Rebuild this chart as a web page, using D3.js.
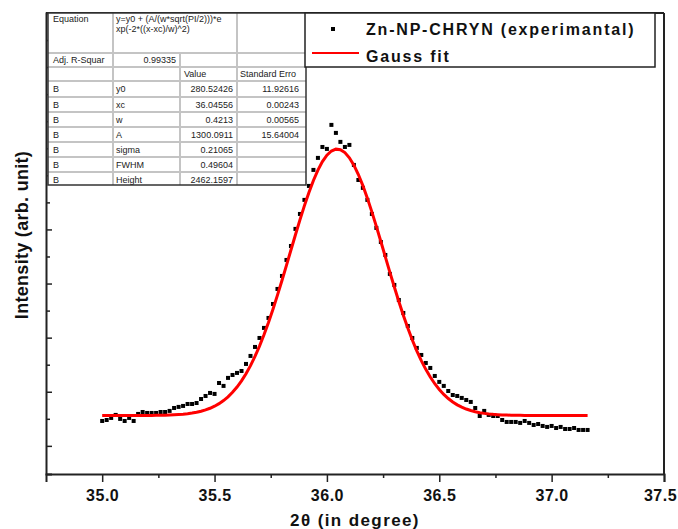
<!DOCTYPE html>
<html>
<head>
<meta charset="utf-8">
<script src="https://cdn.jsdelivr.net/npm/d3@7"></script>
<style>
  body { margin: 0; background: #fff; }
  svg { display: block; font-family: "Liberation Sans", Arial, sans-serif; }
</style>
</head>
<body>
<svg id="chart"></svg>
<script>
// Measured data (2theta in degree, intensity in arb. unit)
const twoTheta = [
  35.00, 35.02, 35.04, 35.06, 35.08, 35.10, 35.12, 35.14, 35.16, 35.18,
  35.20, 35.22, 35.24, 35.26, 35.28, 35.30, 35.32, 35.34, 35.36, 35.38,
  35.40, 35.42, 35.44, 35.46, 35.48, 35.50, 35.52, 35.54, 35.56, 35.58,
  35.60, 35.62, 35.64, 35.66, 35.68, 35.70, 35.72, 35.74, 35.76, 35.78,
  35.80, 35.82, 35.84, 35.86, 35.88, 35.90, 35.92, 35.94, 35.96, 35.98,
  36.00, 36.02, 36.04, 36.06, 36.08, 36.10, 36.12, 36.14, 36.16, 36.18,
  36.20, 36.22, 36.24, 36.26, 36.28, 36.30, 36.32, 36.34, 36.36, 36.38,
  36.40, 36.42, 36.44, 36.46, 36.48, 36.50, 36.52, 36.54, 36.56, 36.58,
  36.60, 36.62, 36.64, 36.66, 36.68, 36.70, 36.72, 36.74, 36.76, 36.78,
  36.80, 36.82, 36.84, 36.86, 36.88, 36.90, 36.92, 36.94, 36.96, 36.98,
  37.00, 37.02, 37.04, 37.06, 37.08, 37.10, 37.12, 37.14, 37.16
];
const intensity = [
  230, 239, 258, 286, 249, 230, 258, 230, 295, 313,
  304, 304, 304, 313, 313, 323, 350, 360, 369, 387,
  387, 396, 433, 461, 489, 480, 581, 554, 628, 655,
  674, 692, 757, 831, 914, 997, 1090, 1182, 1311, 1450,
  1570, 1718, 1847, 2005, 2143, 2273, 2402, 2550, 2661, 2762,
  2744, 2966, 2892, 2809, 2762, 2781, 2596, 2457, 2384, 2273,
  2143, 2014, 1884, 1764, 1589, 1487, 1348, 1228, 1108, 997,
  905, 840, 766, 720, 646, 591, 554, 507, 470, 461,
  443, 424, 406, 350, 276, 323, 286, 276, 276, 239,
  221, 221, 221, 212, 230, 212, 193, 202, 184, 175,
  184, 165, 175, 156, 156, 165, 147, 147, 147
];

// Gauss fit parameters (from the fit table)
const fitY0 = 280.52426;
const fitXc = 36.04556;
const fitW = 0.4213;
const fitA = 1300.0911;

// Fit result table
const equationLines = ["y=y0 + (A/(w*sqrt(PI/2)))*e", "xp(-2*((x-xc)/w)^2)"];
const adjRSquare = "0.99335";
const tableHeader = ["", "", "Value", "Standard Erro"];
const tableRows = [
  ["B", "y0", "280.52426", "11.92616"],
  ["B", "xc", "36.04556", "0.00243"],
  ["B", "w", "0.4213", "0.00565"],
  ["B", "A", "1300.0911", "15.64004"],
  ["B", "sigma", "0.21065", ""],
  ["B", "FWHM", "0.49604", ""],
  ["B", "Height", "2462.1597", ""]
];

const xMajorTicks = [35.0, 35.5, 36.0, 36.5, 37.0, 37.5];
const xMinorTicks = [35.25, 35.75, 36.25, 36.75, 37.25];
const yMajorTicks = [0, 500, 1000, 1500, 2000, 2500, 3000, 3500];
const yMinorTicks = [250, 750, 1250, 1750, 2250, 2750, 3250, 3750];

const legendLabels = ["Zn-NP-CHRYN (experimantal)", "Gauss fit"];

// Set up the dimensions and margins
const margin = {top: 13, right: 14, bottom: 55, left: 46};
const width = 678 - margin.left - margin.right;
const height = 529 - margin.top - margin.bottom;

const svg = d3.select("#chart")
  .attr("width", 678)
  .attr("height", 529)
  .append("g")
  .attr("transform", `translate(${margin.left},${margin.top})`);

const x = d3.scaleLinear().domain([34.75, 37.5]).range([0, width]);
const y = d3.scaleLinear().domain([-260, 4000]).range([height, 0]);

const axisColor = "#222";

// X axis (ticks outward)
const xAxis = svg.append("g")
  .attr("transform", `translate(0,${height})`)
  .call(d3.axisBottom(x).tickValues(xMajorTicks).tickSize(8).tickPadding(8)
    .tickFormat(d3.format(".1f")));
xAxis.select(".domain").attr("stroke", axisColor).attr("stroke-width", 2);
xAxis.selectAll(".tick line").attr("stroke", axisColor).attr("stroke-width", 1.5);
xAxis.selectAll(".tick text")
  .attr("fill", "#111")
  .style("font-size", "16px")
  .style("font-weight", "bold")
  .style("letter-spacing", "0.5px");
// keep the last label inside the page
xAxis.selectAll(".tick text").filter(d => d === 37.5).attr("dx", -4);

svg.append("g")
  .attr("transform", `translate(0,${height})`)
  .call(d3.axisBottom(x).tickValues(xMinorTicks).tickSize(4).tickFormat(""))
  .call(g => g.select(".domain").remove())
  .selectAll(".tick line").attr("stroke", axisColor).attr("stroke-width", 1.5);

// Y axis (ticks inward, no labels)
const yAxis = svg.append("g")
  .call(d3.axisRight(y).tickValues(yMajorTicks).tickSize(6).tickFormat(""));
yAxis.select(".domain").attr("stroke", axisColor).attr("stroke-width", 2);
yAxis.selectAll(".tick line").attr("stroke", axisColor).attr("stroke-width", 1.5);

svg.append("g")
  .call(d3.axisRight(y).tickValues(yMinorTicks).tickSize(4).tickFormat(""))
  .call(g => g.select(".domain").remove())
  .selectAll(".tick line").attr("stroke", axisColor).attr("stroke-width", 1.5);

// Top and right frame lines
svg.append("line")
  .attr("x1", 0).attr("x2", width).attr("y1", 0).attr("y2", 0)
  .attr("stroke", axisColor).attr("stroke-width", 2);
svg.append("line")
  .attr("x1", width).attr("x2", width).attr("y1", 0).attr("y2", height)
  .attr("stroke", axisColor).attr("stroke-width", 2);

// Axis titles
svg.append("text")
  .attr("x", width / 2)
  .attr("y", height + 52)
  .attr("text-anchor", "middle")
  .attr("fill", "#111")
  .style("font-size", "17px")
  .style("font-weight", "bold")
  .style("letter-spacing", "1.4px")
  .text("2θ (in degree)");

svg.append("text")
  .attr("transform", `translate(${28 - margin.left},${222}) rotate(-90)`)
  .attr("text-anchor", "middle")
  .attr("fill", "#111")
  .style("font-size", "18px")
  .style("font-weight", "bold")
  .style("letter-spacing", "0.3px")
  .text("Intensity (arb. unit)");

// Gauss fit curve
const gauss = t => fitY0 + (fitA / (fitW * Math.sqrt(Math.PI / 2))) *
  Math.exp(-2 * Math.pow((t - fitXc) / fitW, 2));

const line = d3.line()
  .x(d => x(d))
  .y(d => y(gauss(d)));

// Experimental points
svg.selectAll(".pt")
  .data(twoTheta)
  .enter()
  .append("rect")
  .attr("class", "pt")
  .attr("x", d => x(d) - 2)
  .attr("y", (d, i) => y(intensity[i]) - 2)
  .attr("width", 4)
  .attr("height", 4)
  .attr("fill", "#000");

svg.append("path")
  .datum(twoTheta)
  .attr("fill", "none")
  .attr("stroke", "#ff0000")
  .attr("stroke-width", 3)
  .attr("d", line);

// Fit result table (top-left, page coordinates)
const tbl = d3.select("#chart").append("g");
const colX = [48, 113, 180, 237, 306];
const rowY = [13, 53, 67, 81, 97, 112, 127, 142, 157, 172, 185];
const gridColor = "#c4c4c4";

tbl.append("rect")
  .attr("x", colX[0]).attr("y", rowY[0])
  .attr("width", colX[4] - colX[0]).attr("height", rowY[10] - rowY[0])
  .attr("fill", "#fff");

// horizontal grid lines
rowY.slice(1, -1).forEach(ry => {
  tbl.append("line")
    .attr("x1", colX[0]).attr("x2", colX[4]).attr("y1", ry).attr("y2", ry)
    .attr("stroke", gridColor).attr("stroke-width", 2);
});
// vertical grid lines
tbl.append("line").attr("x1", colX[1]).attr("x2", colX[1]).attr("y1", rowY[0]).attr("y2", rowY[10])
  .attr("stroke", gridColor).attr("stroke-width", 2);
tbl.append("line").attr("x1", colX[2]).attr("x2", colX[2]).attr("y1", rowY[1]).attr("y2", rowY[10])
  .attr("stroke", gridColor).attr("stroke-width", 2);
tbl.append("line").attr("x1", colX[3]).attr("x2", colX[3]).attr("y1", rowY[0]).attr("y2", rowY[10])
  .attr("stroke", gridColor).attr("stroke-width", 2);

tbl.append("rect")
  .attr("x", colX[0]).attr("y", rowY[0])
  .attr("width", colX[4] - colX[0]).attr("height", rowY[10] - rowY[0])
  .attr("fill", "none")
  .attr("stroke", "#333")
  .attr("stroke-width", 1.5);

function cellText(tx, ty, str, anchor) {
  tbl.append("text")
    .attr("x", tx).attr("y", ty)
    .attr("text-anchor", anchor || "start")
    .attr("fill", "#222")
    .style("font-size", "9px")
    .text(str);
}

cellText(53, 22, "Equation");
equationLines.forEach((s, i) => cellText(116, 22 + i * 10, s));
cellText(53, 63, "Adj. R-Squar");
cellText(176, 63, adjRSquare, "end");
cellText(colX[2] + 4, 77, tableHeader[2]);
cellText(colX[3] + 3, 77, tableHeader[3]);
tableRows.forEach((r, i) => {
  const by = rowY[3 + i] + 11;
  cellText(53, by, r[0]);
  cellText(116, by, r[1]);
  cellText(colX[3] - 4, by, r[2], "end");
  cellText(colX[4] - 7, by, r[3], "end");
});

// Legend (page coordinates)
const legend = d3.select("#chart").append("g");
legend.append("rect")
  .attr("x", 305).attr("y", 13)
  .attr("width", 350).attr("height", 54)
  .attr("fill", "#fff")
  .attr("stroke", "#222")
  .attr("stroke-width", 1.5);

legend.append("rect")
  .attr("x", 331).attr("y", 27)
  .attr("width", 4).attr("height", 4)
  .attr("fill", "#000");

legend.append("line")
  .attr("x1", 312).attr("x2", 359)
  .attr("y1", 53).attr("y2", 53)
  .attr("stroke", "#ff0000")
  .attr("stroke-width", 2);

legendLabels.forEach((label, i) => {
  legend.append("text")
    .attr("x", 366)
    .attr("y", 35 + i * 27)
    .attr("fill", "#111")
    .style("font-size", "16px")
    .style("font-weight", "bold")
    .style("letter-spacing", "1.8px")
    .text(label);
});
</script>
</body>
</html>
